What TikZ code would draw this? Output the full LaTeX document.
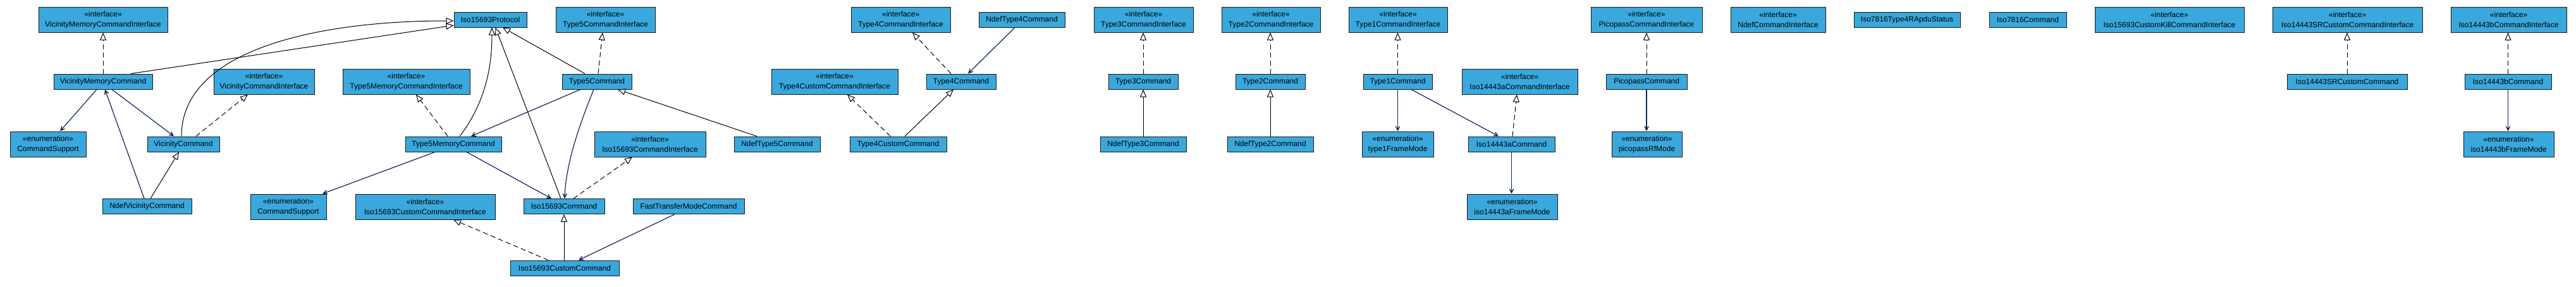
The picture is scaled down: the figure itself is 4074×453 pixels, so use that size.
\documentclass[tikz,border=0pt]{standalone}
\usepackage{fontspec}
\setmainfont{Liberation Sans}
\usetikzlibrary{arrows.meta,calc}
\definecolor{boxblue}{RGB}{58,168,220}
\definecolor{navyline}{RGB}{12,36,96}
\newcommand{\stI}[1]{«interface»\\#1}
\newcommand{\stE}[1]{«enumeration»\\#1}
\begin{document}
\begin{tikzpicture}[x=1pt,y=-1pt,
  cls/.style={draw=black!90, fill=boxblue, line width=1pt, inner sep=0pt, align=center,
    font=\fontsize{12}{16}\selectfont, minimum height=24pt},
  two/.style={minimum height=40pt},
  realize/.style={draw=black, line width=1pt, dash pattern=on 8pt off 5pt,
    -{Triangle[open,length=12pt,width=10pt,fill=white]}},
  inherit/.style={draw=black, line width=1pt,
    -{Triangle[open,length=12pt,width=10pt,fill=white]}},
  assoc/.style={draw=navyline, line width=1.2pt,
    -{Stealth[length=13pt,width=13pt,inset=9pt]}}]
\useasboundingbox (0,0) rectangle (4074,453);
% nodes
\node[cls,two,minimum width=204pt] (vmci) at (163,31) {\stI{VicinityMemoryCommandInterface}};
\node[cls,minimum width=156pt] (vmc) at (163,129) {VicinityMemoryCommand};
\node[cls,two,minimum width=120pt] (cs1) at (76,228) {\stE{CommandSupport}};
\node[cls,minimum width=114pt] (vc) at (290,228) {VicinityCommand};
\node[cls,minimum width=141pt] (nvc) at (232.5,326.5) {NdefVicinityCommand};
\node[cls,two,minimum width=159pt] (vci) at (417.5,129) {\stI{VicinityCommandInterface}};
\node[cls,two,minimum width=201pt] (t5mci) at (642.5,129) {\stI{Type5MemoryCommandInterface}};
\node[cls,minimum width=152pt] (t5mc) at (717,228) {Type5MemoryCommand};
\node[cls,two,minimum width=120pt] (cs2) at (456,327) {\stE{CommandSupport}};
\node[cls,two,minimum width=221pt] (i15cci) at (672.5,327) {\stI{Iso15693CustomCommandInterface}};
\node[cls,minimum width=115pt] (proto) at (775.5,31) {Iso15693Protocol};
\node[cls,two,minimum width=157pt] (t5ci) at (957.5,31) {\stI{Type5CommandInterface}};
\node[cls,minimum width=110pt] (t5c) at (944,129) {Type5Command};
\node[cls,two,minimum width=176pt] (i15ci) at (1028,228) {\stI{Iso15693CommandInterface}};
\node[cls,minimum width=128pt] (i15c) at (892,326.5) {Iso15693Command};
\node[cls,minimum width=176pt] (ftm) at (1089,326.5) {FastTransferModeCommand};
\node[cls,minimum width=172pt] (i15cc) at (893,424) {Iso15693CustomCommand};
\node[cls,minimum width=136pt] (nt5) at (1229,228) {NdefType5Command};
\node[cls,two,minimum width=200pt] (t4cci) at (1320,129) {\stI{Type4CustomCommandInterface}};
\node[cls,two,minimum width=157pt] (t4ci) at (1424.5,31) {\stI{Type4CommandInterface}};
\node[cls,minimum width=153pt] (t4cc) at (1420.5,228) {Type4CustomCommand};
\node[cls,minimum width=110pt] (t4c) at (1520,129) {Type4Command};
\node[cls,minimum width=136pt] (nt4) at (1616,31) {NdefType4Command};
\node[cls,two,minimum width=157pt] (t3ci) at (1808.5,31) {\stI{Type3CommandInterface}};
\node[cls,minimum width=110pt] (t3c) at (1808,129) {Type3Command};
\node[cls,minimum width=136pt] (nt3) at (1808,228) {NdefType3Command};
\node[cls,two,minimum width=156pt] (t2ci) at (2010,31) {\stI{Type2CommandInterface}};
\node[cls,minimum width=110pt] (t2c) at (2009,129) {Type2Command};
\node[cls,minimum width=136pt] (nt2) at (2009,228) {NdefType2Command};
\node[cls,two,minimum width=156pt] (t1ci) at (2211,31) {\stI{Type1CommandInterface}};
\node[cls,minimum width=109pt] (t1c) at (2210.5,129) {Type1Command};
\node[cls,two,minimum width=113pt] (t1fm) at (2210.5,228) {\stE{type1FrameMode}};
\node[cls,two,minimum width=183pt] (i14aci) at (2403.5,129) {\stI{Iso14443aCommandInterface}};
\node[cls,minimum width=137pt] (i14ac) at (2390.5,228) {Iso14443aCommand};
\node[cls,two,minimum width=143pt] (i14afm) at (2391.5,327) {\stE{iso14443aFrameMode}};
\node[cls,two,minimum width=176pt] (pci) at (2604,31) {\stI{PicopassCommandInterface}};
\node[cls,minimum width=128pt] (pc) at (2604,129) {PicopassCommand};
\node[cls,two,minimum width=111pt] (prm) at (2604.5,228) {\stE{picopassRfMode}};
\node[cls,two,minimum width=150pt] (nci) at (2812,31) {\stI{NdefCommandInterface}};
\node[cls,minimum width=168pt] (i78s) at (3016,31) {Iso7816Type4RApduStatus};
\node[cls,minimum width=122pt] (i78c) at (3207,31) {Iso7816Command};
\node[cls,two,minimum width=236pt] (i15ckci) at (3431,31) {\stI{Iso15693CustomKillCommandInterface}};
\node[cls,two,minimum width=237pt] (i14srci) at (3712.5,31) {\stI{Iso14443SRCustomCommandInterface}};
\node[cls,minimum width=190pt] (i14src) at (3712,129) {Iso14443SRCustomCommand};
\node[cls,two,minimum width=183pt] (i14bci) at (3967.5,31) {\stI{Iso14443bCommandInterface}};
\node[cls,minimum width=137pt] (i14bc) at (3966.5,129) {Iso14443bCommand};
\node[cls,two,minimum width=143pt] (i14bfm) at (3967.5,228) {\stE{iso14443bFrameMode}};
% connectors
\draw[realize] (vmc.north) -- (vmci.south);
\draw[inherit] ([xshift=44pt]vmc.north) -- ([yshift=-9pt]proto.west);
\draw[assoc] ([xshift=-10pt]vmc.south) -- ([xshift=19pt]cs1.north);
\draw[assoc] ([xshift=14pt]vmc.south) -- ([xshift=-15pt]vc.north);
\draw[assoc] ([xshift=-4.5pt]nvc.north) -- ([xshift=3pt]vmc.south);
\draw[inherit] ([xshift=5.5pt]nvc.north) -- ([xshift=-7pt]vc.south);
\draw[realize] ([xshift=20pt]vc.north) -- ([xshift=-25.5pt]vci.south);
\draw[inherit] ([xshift=-3pt]vc.north) .. controls +(0,-136) and +(-218,0) .. ([yshift=-2pt]proto.west);
\draw[realize] ([xshift=-9pt]t5mc.north) -- ([xshift=15.5pt]t5mci.south);
\draw[inherit] ([xshift=10pt]t5mc.north) .. controls +(43,-56) and +(0,57) .. ([xshift=2.5pt]proto.south);
\draw[assoc] ([xshift=-29pt]t5mc.south) -- ([xshift=54pt]cs2.north);
\draw[assoc] ([xshift=21pt]t5mc.south) -- ([xshift=-20pt]i15c.north);
\draw[inherit] ([xshift=-5pt]i15c.north) -- ([xshift=8pt]proto.south);
\draw[inherit] ([xshift=-19pt]t5c.north) -- ([xshift=19.5pt]proto.south);
\draw[realize] ([xshift=2pt]t5c.north) -- ([xshift=-4.5pt]t5ci.south);
\draw[assoc] ([xshift=-26pt]t5c.south) -- ([xshift=28pt]t5mc.north);
\draw[assoc] ([xshift=-5pt]t5c.south) .. controls +(-24,59) and +(2,-54) .. ([xshift=1pt]i15c.north);
\draw[inherit] ([xshift=-32pt]nt5.north) -- ([xshift=33pt]t5c.south);
\draw[realize] ([xshift=15pt]i15c.north) -- ([xshift=-28pt]i15ci.south);
\draw[inherit] (i15cc.north -| i15c.south) -- (i15c.south);
\draw[realize] ([xshift=-26pt]i15cc.north) -- ([xshift=44.5pt]i15cci.south);
\draw[assoc] ([xshift=-22pt]ftm.south) -- ([xshift=22pt]i15cc.north);
\draw[realize] ([xshift=-12.5pt]t4cc.north) -- ([xshift=20pt]t4cci.south);
\draw[inherit] ([xshift=10.5pt]t4cc.north) -- ([xshift=-12pt]t4c.south);
\draw[realize] ([xshift=-16pt]t4c.north) -- ([xshift=18.5pt]t4ci.south);
\draw[assoc] ([xshift=-11pt]nt4.south) -- ([xshift=11pt]t4c.north);
\draw[realize] (t3c.north) -- (t3c.north |- t3ci.south);
\draw[inherit] (nt3.north) -- (nt3.north |- t3c.south);
\draw[realize] (t2c.north) -- (t2c.north |- t2ci.south);
\draw[inherit] (nt2.north) -- (nt2.north |- t2c.south);
\draw[realize] (t1c.north) -- (t1c.north |- t1ci.south);
\draw[assoc] (t1c.south) -- (t1c.south |- t1fm.north);
\draw[assoc] ([xshift=21.5pt]t1c.south) -- ([xshift=-20.5pt]i14ac.north);
\draw[realize] ([xshift=1.5pt]i14ac.north) -- ([xshift=-4.5pt]i14aci.south);
\draw[assoc] (i14ac.south) -- (i14ac.south |- i14afm.north);
\draw[realize] (pc.north) -- (pc.north |- pci.south);
\draw[assoc] (pc.south) -- (pc.south |- prm.north);
\draw[realize] (i14src.north) -- (i14src.north |- i14srci.south);
\draw[realize] (i14bc.north) -- (i14bc.north |- i14bci.south);
\draw[assoc] (i14bc.south) -- (i14bc.south |- i14bfm.north);
\end{tikzpicture}
\end{document}
